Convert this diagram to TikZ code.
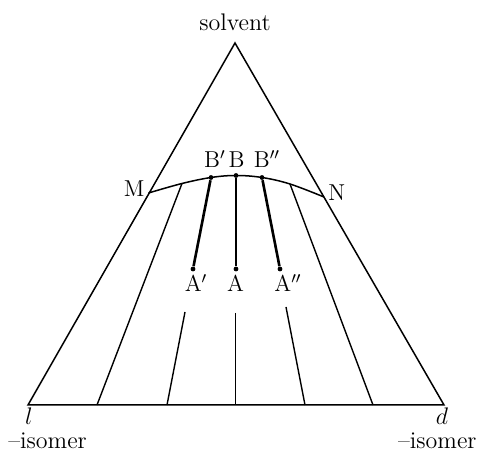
\documentclass[tikz,border=0pt]{standalone}
\begin{document}
\begin{tikzpicture}[x=0.5pt,y=-0.5pt,
  edge/.style={line width=0.75pt},
  tie/.style={line width=0.7pt},
  thick tie/.style={line width=1.3pt},
  dot/.style={circle,fill,inner sep=0pt,minimum size=2.4pt},
  lbl/.style={font=\fontsize{11.5}{13}\selectfont,inner sep=1pt},
  txt/.style={font=\fontsize{12}{14}\selectfont,inner sep=0pt}]
\useasboundingbox (0,0) rectangle (479,454);
% triangle
\coordinate (T) at (235,43);
\coordinate (L) at (28,405);
\coordinate (R) at (444,405);
\draw[edge,line join=miter] (L) -- (T) -- (R) -- cycle;
% curve points
\coordinate (M) at (148.5,193);
\coordinate (P1) at (182,183.5);
\node[dot] (Bp) at (211,177.5) {};
\node[dot] (B) at (236,175.5) {};
\node[dot] (Bpp) at (262,177.5) {};
\coordinate (P2) at (290,184);
\coordinate (N) at (324,197);
\draw[edge] plot[smooth,tension=0.6] coordinates {(M) (P1) (Bp.center) (B.center) (Bpp.center) (P2) (N)};
% A points
\node[dot] (Ap) at (193,269) {};
\node[dot] (A) at (236,269) {};
\node[dot] (App) at (280,269) {};
% bottom ends
\coordinate (b1) at (97,405);
\coordinate (b2) at (167,405);
\coordinate (b3) at (235.5,405);
\coordinate (b4) at (305,405);
\coordinate (b5) at (373,405);
% lower stubs
\coordinate (s2) at (185,312);
\coordinate (s3) at (235.5,313);
\coordinate (s4) at (286,307);
% tie lines
\draw[tie] (P1) -- (b1);
\draw[tie] (P2) -- (b5);
\draw[thick tie] (Bp) -- (Ap);
\draw[thick tie] (B) -- (A);
\draw[thick tie] (Bpp) -- (App);
\draw[tie] (s2) -- (b2);
\draw[tie] (s3) -- (b3);
\draw[tie] (s4) -- (b4);
% labels
\node[txt,anchor=base] (solv) at (235,31) {solvent};
\node[lbl,anchor=base east] (lM) at (147,197) {M};
\node[lbl,anchor=base west] (lN) at (326,201) {N};
\node[lbl,anchor=base] (lBp) at (215,168) {B$'$};
\node[lbl,anchor=base] (lB) at (236.5,168) {B};
\node[lbl,anchor=base] (lBpp) at (267,168) {B$''$};
\node[lbl,anchor=base] (lAp) at (196,292) {A$'$};
\node[lbl,anchor=base] (lA) at (235.5,292) {A};
\node[lbl,anchor=base] (lApp) at (288,292) {A$''$};
\node[txt,anchor=base] (ll) at (29,425) {$l$};
\node[txt,anchor=base west] (li) at (8,449) {\textendash isomer};
\node[txt,anchor=base] (ld) at (442,425) {$d$};
\node[txt,anchor=base east] (di) at (477,449) {\textendash isomer};
\end{tikzpicture}
\end{document}
